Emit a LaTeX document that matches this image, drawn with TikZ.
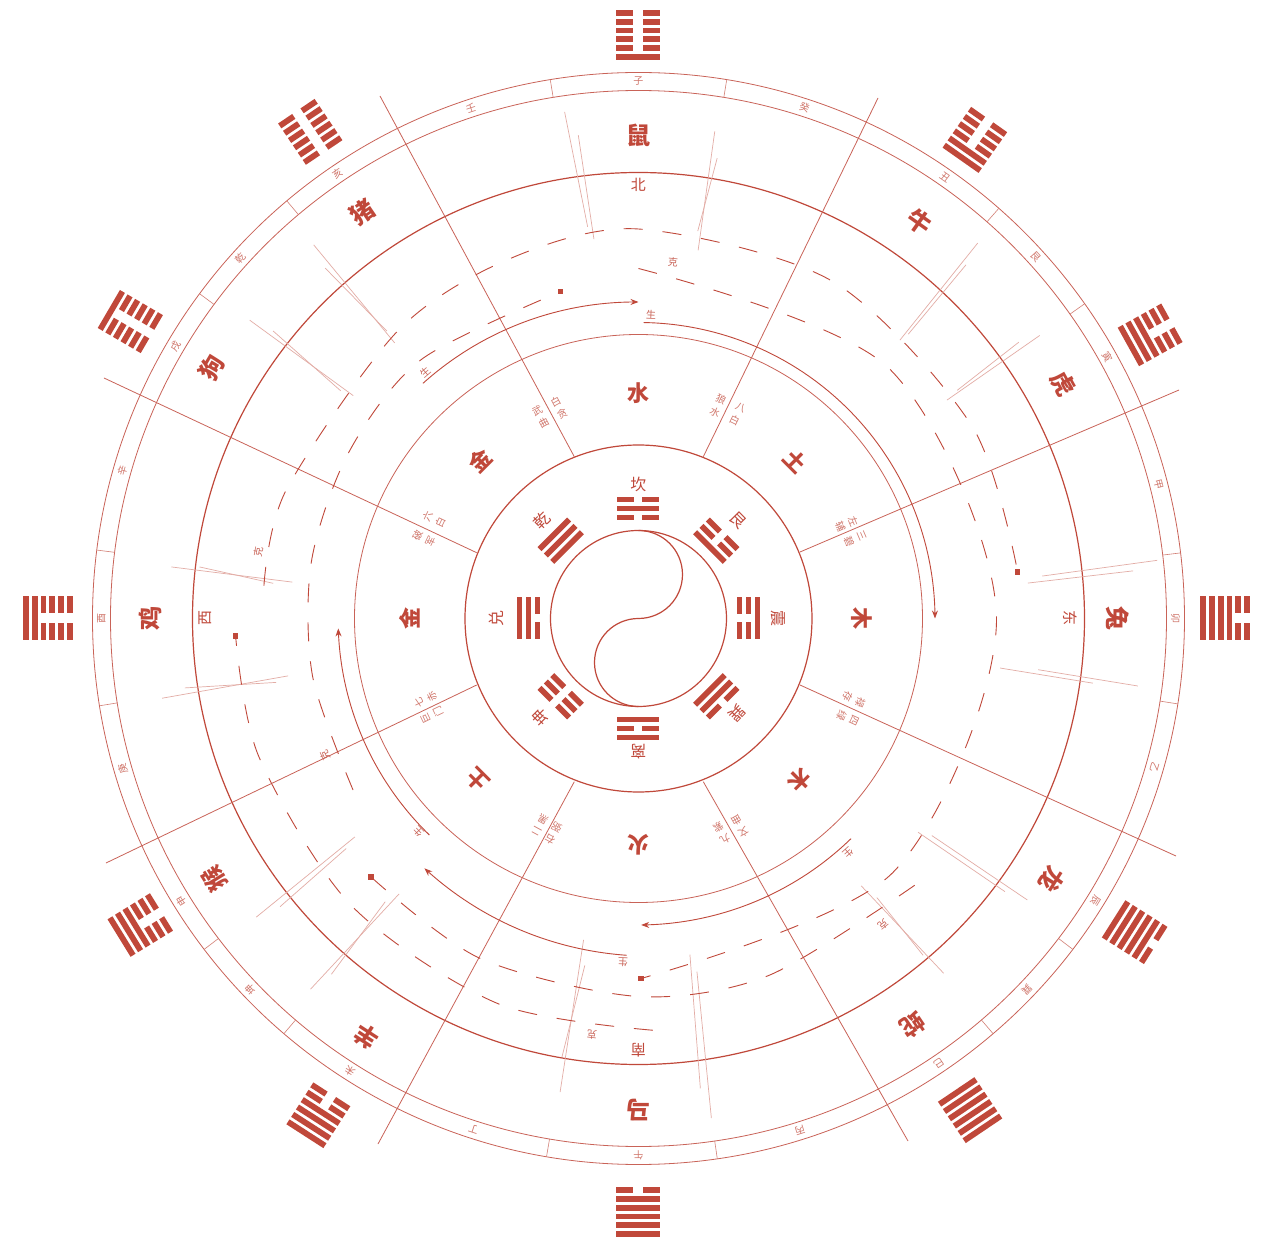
\documentclass[tikz,border=0pt]{standalone}
\usepackage{fontspec}
\newfontfamily\cjk{Noto Sans CJK SC}
\usetikzlibrary{arrows.meta}
\definecolor{zr}{RGB}{192,72,58}
\newcommand\spiral[5]{\draw[#1] plot[domain=#2:#4, samples=90, smooth] ({\x}:{#3+(#5-(#3))*((\x-(#2))/((#4)-(#2)))});}
\newcommand\sqmark[2]{\fill[zr] (#1:#2) +(-2.8,-2.8) rectangle +(2.8,2.8);}
\begin{document}
\begin{tikzpicture}[x=1pt,y=1pt,
  every node/.style={inner sep=0pt,outer sep=0pt,text=zr},
  animal/.style={font=\cjk\bfseries\fontsize{24}{24}\selectfont},
  elem/.style={font=\cjk\bfseries\fontsize{22}{22}\selectfont},
  dirl/.style={font=\cjk\fontsize{15}{15}\selectfont},
  gual/.style={font=\cjk\fontsize{16}{16}\selectfont},
  mtn/.style={font=\cjk\fontsize{10}{10}\selectfont, text=zr!75},
  star/.style={font=\cjk\fontsize{10}{14}\selectfont, text=zr!75, align=center},
  cyc/.style={font=\cjk\fontsize{10}{10}\selectfont, text=zr!85},
  ring/.style={draw=zr, line width=1.2pt},
  thinring/.style={draw=zr!85, line width=0.8pt},
  radial/.style={draw=zr!85, line width=0.8pt},
  tickl/.style={draw=zr!70, line width=0.6pt},
  pairl/.style={draw=zr!45, line width=0.7pt},
  sheng/.style={draw=zr, line width=0.9pt, -{Stealth[length=8pt,width=6pt]}},
  ke/.style={draw=zr, line width=0.9pt, dash pattern=on 19pt off 20pt},
]
\useasboundingbox (-638.5,-620.5) rectangle (633.5,618.5);
\fill[white] (-638.5,-620.5) rectangle (633.5,618.5);

% circles
\draw[ring] (0,0) circle (88);
\draw[ring] (0,88) arc[start angle=90,end angle=-90,radius=44] arc[start angle=90,end angle=270,radius=44];
\draw[ring] (0,0) circle (173.5);
\draw[thinring] (0,0) circle (284);
\draw[ring] (0,0) circle (446);
\draw[thinring] (0,0) circle (528);
\draw[thinring] (0,0) circle (546);

% radial lines
\coordinate (i1) at (-64.2,161.8);  \coordinate (o1) at (-258.5,522.5);
\coordinate (i2) at (64.8,161.8);   \coordinate (o2) at (239.5,520.5);
\coordinate (i3) at (-161.8,65.8);  \coordinate (o3) at (-534.5,240.5);
\coordinate (i4) at (161.5,66.5);   \coordinate (o4) at (540.5,228.5);
\coordinate (i5) at (-161.8,-66.5); \coordinate (o5) at (-532.5,-244.5);
\coordinate (i6) at (161.5,-66.5);  \coordinate (o6) at (537.5,-237.5);
\coordinate (i7) at (-64.2,-163.2); \coordinate (o7) at (-260.5,-525.5);
\coordinate (i8) at (64.8,-163.2);  \coordinate (o8) at (269.5,-522.5);
\foreach \k in {1,...,8} \draw[radial] (i\k) -- (o\k);

% ticks of 24-mountain ring
\foreach \t in {80.7,99.3,35.2,48.7,6.9,-9,-37.3,-49.5,-81.7,-99.7,-130.5,-142.7,172.8,-170.8,130.1,143.5}
  \draw[tickl] (\t:528) -- (\t:546);

% double faint lines (angle1/r1/angle2/r2)
\foreach \a/\r/\b/\s in {98.3/512/97.4/395, 97.1/487/96.7/382, 81.1/493/80.8/373, 80.3/467/81.3/392,
  47.9/506/46.8/382, 47.2/482/46.5/392, 35.2/491/35.3/378, 36.0/470/35.6/392,
  5.5/497/5.2/391, 6.4/522/6.0/406, -8.1/459/-7.8/365, -7.7/504/-7.3/403,
  -36.7/457/-37.4/352, -35.9/480/-36.5/365, -49.3/468/-50.2/348, -49.8/441/-49.5/367,
  -81.3/340/-82.5/474, -80.6/358/-81.7/505, -99.7/326/-99.4/480, -98.8/351/-99.9/445,
  -131.5/495/-131.0/365, -130.8/470/-131.8/380, -142.0/485/-142.4/358, -141.2/460/-141.8/372,
  173.7/470/174/348, 173.3/442/174.5/367, -170.5/483/-170.7/355, -171.3/459/-170/368,
  142.5/490/142.0/362, 141.8/465/142.6/375, 131.0/495/131.5/368, 131.8/470/131.2/382}
  \draw[pairl] (\a:\r) -- (\b:\s);

% 24 mountains
\foreach \a/\t [count=\i] in {90/子,72/癸,55.2/丑,42.3/艮,29.2/寅,14.4/甲,0/卯,-16.1/乙,-31.7/辰,-43.7/巽,-56/巳,-72.5/丙,-90/午,-107.9/丁,-122.5/未,-136.3/坤,-148.2/申,-163.8/庚,180/酉,164/辛,149.6/戌,137.9/乾,124.1/亥,108.2/壬}
  \node[mtn, rotate=\a-90] (mt\i) at (\a:537) {\t};

% animals
\foreach \a/\r/\t [count=\i] in {90/483.5/鼠,54.7/486/牛,29/485.5/虎,0/479.5/兔,-32.3/489/龙,-56/490/蛇,-90/491.5/马,-123/499/羊,-148.4/497.7/猴,180/488.5/鸡,149.6/495/狗,124.2/490.8/猪}
  \node[animal, rotate=\a-90] (an\i) at (\a:\r) {\t};

% hexagrams (first line inner)
\foreach \a/\r/\p in {90/583.5/{1,0,0,0,0,0},54.9/585/{1,1,0,0,0,0},29/585/{1,1,1,0,0,0},0/586.5/{1,1,1,1,0,0},-32.3/587/{1,1,1,1,1,0},-56/593/{1,1,1,1,1,1},-90/593.5/{0,1,1,1,1,1},-122.8/591/{0,0,1,1,1,1},-148.4/585/{0,0,0,1,1,1},180/590.5/{0,0,0,0,1,1},149.7/588.6/{0,0,0,0,0,1},124/587/{0,0,0,0,0,0}}{
  \begin{scope}[shift={(\a:\r)},rotate=\a-90]
    \foreach \b [count=\j] in \p {
      \pgfmathsetmacro\yy{-22+8.8*(\j-1)}
      \ifnum\b=1
        \fill[zr] (-22,\yy-2.9) rectangle (22,\yy+2.9);
      \else
        \fill[zr] (-22,\yy-2.9) rectangle (-5,\yy+2.9);
        \fill[zr] (5,\yy-2.9) rectangle (22,\yy+2.9);
      \fi
    }
  \end{scope}
}

% trigrams (first line outer)
\foreach \a/\p in {90/{0,1,0},45/{0,0,1},0/{1,0,0},-45/{0,1,1},-90/{1,0,1},-135/{0,0,0},180/{1,1,0},135/{1,1,1}}{
  \begin{scope}[shift={(\a:110)},rotate=\a-90]
    \foreach \b [count=\j] in \p {
      \pgfmathsetmacro\yy{18-9*\j}
      \ifnum\b=1
        \fill[zr] (-21,\yy-2.8) rectangle (21,\yy+2.8);
      \else
        \fill[zr] (-21,\yy-2.8) rectangle (-4,\yy+2.8);
        \fill[zr] (4,\yy-2.8) rectangle (21,\yy+2.8);
      \fi
    }
  \end{scope}
}
\foreach \a/\r/\t [count=\i] in {90/134/坎,44.6/140/艮,0/139.5/震,-44/136.5/巽,-90/133/离,-135/139/坤,180/142/兑,134.5/138/乾}
  \node[gual, rotate=\a-90] (gl\i) at (\a:\r) {\t};

% five elements
\foreach \a/\r/\t [count=\i] in {90/225.5/水,45/222/土,0/223.5/木,-45/228/木,-90/226.5/火,-135/228/土,180/228.5/金,135/224/金}
  \node[elem, rotate=\a-90] (el\i) at (\a:\r) {\t};

% directions
\foreach \a/\r/\t [count=\i] in {90/433.5/北,0/431.5/东,-90/431.5/南,180/433.5/西}
  \node[dirl, rotate=\a-90] (dr\i) at (\a:\r) {\t};

% nine stars
\node[star, rotate=28.3]  (s1a) at (-79.5,210.5) {白\\贪};
\node[star, rotate=28.3]  (s1b) at (-98,201.8) {武\\曲};
\node[star, rotate=-26]   (s2a) at (79.5,212.5) {狼\\水};
\node[star, rotate=-26]   (s2b) at (99,204.5) {八\\白};
\node[star, rotate=64.9]  (s3a) at (-204.5,99.5) {六\\白};
\node[star, rotate=64.9]  (s3b) at (-214.5,80) {破\\军};
\node[star, rotate=-67]   (s4a) at (208.2,94.5) {左\\辅};
\node[star, rotate=-67]   (s4b) at (216.5,79.5) {三\\碧};
\node[star, rotate=115.7] (s5a) at (-213,-81.2) {七\\赤};
\node[star, rotate=115.7] (s5b) at (-206.5,-96.5) {巨\\门};
\node[star, rotate=-114.5] (s6a) at (215.5,-81.5) {禄\\存};
\node[star, rotate=-114.5] (s6b) at (209,-99.5) {四\\绿};
\node[star, rotate=151.5] (s7a) at (-98.5,-206.5) {二\\黑};
\node[star, rotate=151.5] (s7b) at (-85.2,-214.8) {右\\弼};
\node[star, rotate=-150.3] (s8a) at (101.5,-208.2) {文\\曲};
\node[star, rotate=-150.3] (s8b) at (83.2,-214.8) {九\\紫};

% sheng cycle
\spiral{sheng}{132.5}{319}{90}{316.5}
\spiral{sheng}{89}{296}{0}{296.5}
\spiral{sheng}{-46}{306}{-89.5}{306.5}
\spiral{sheng}{-92}{337}{-130.6}{329}
\spiral{sheng}{-134}{301}{-178.1}{300.4}
\node[cyc, rotate=-2.4]   (g1) at (12.5,303.5) {生};
\node[cyc, rotate=40.9]   (g2) at (-213.5,246.5) {生};
\node[cyc, rotate=-138.2] (g3) at (209.5,-234.5) {生};
\node[cyc, rotate=-226.2] (g4) at (-220.2,-213.2) {生};
\node[cyc, rotate=-182.6] (g5) at (-15.5,-343.5) {生};

% ke cycle
\draw[ke] plot[smooth] coordinates {(90:350) (45:354) (0:358) (-45:359.5) (-89.6:360)};
\sqmark{-89.6}{360}
\draw[ke] plot[smooth] coordinates {(-88:412) (-110:410) (-135:406) (-160:404) (-177.5:403.3)};
\sqmark{-177.5}{403.3}
\draw[ke] plot[smooth] coordinates {(175:376) (160:375) (130:375) (110:382) (90:389.5) (60:389) (30:385) (7:382)};
\sqmark{7}{382}
\draw[ke] plot[smooth] coordinates {(-44:384) (-70:380) (-90:378) (-115:375) (-136:372)};
\sqmark{-136}{372}
\draw[ke] plot[smooth] coordinates {(-149:333) (-170:331) (170:332) (150:334) (130:338) (103.4:336)};
\sqmark{103.4}{336}
\node[cyc, rotate=-5.5]   (k1) at (34.5,356.5) {克};
\node[cyc, rotate=79.7]   (k2) at (-380.2,66.5) {克};
\node[cyc, rotate=-141.4] (k3) at (244.5,-306.5) {克};
\node[cyc, rotate=-186.4] (k4) at (-46.5,-416.5) {克};
\node[cyc, rotate=-246.6] (k5) at (-313.5,-136.5) {克};
\end{tikzpicture}
\end{document}
